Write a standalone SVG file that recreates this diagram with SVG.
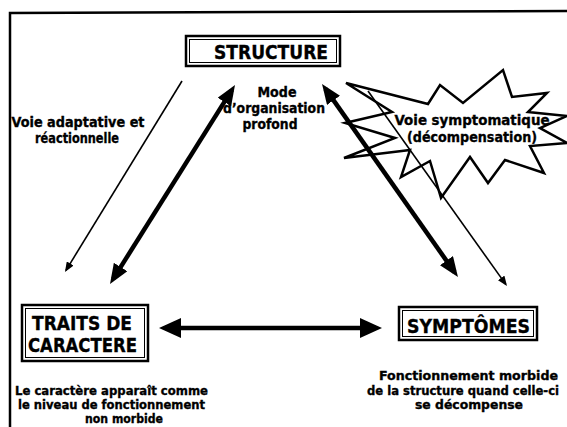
<svg xmlns="http://www.w3.org/2000/svg" width="567" height="427" viewBox="0 0 567 427">
<style>
text{font-family:"DejaVu Sans",Verdana,sans-serif;font-weight:bold;fill:#000;stroke:#000;stroke-width:0.35}
.t{font-size:13.5px}
.h{font-size:19.5px}
.s{font-size:12px}
.outer{fill:#fff;stroke:#000;stroke-width:2.5}
.inner{fill:none;stroke:#000;stroke-width:1}
.thick{stroke:#000;stroke-width:4.5;fill:none}
.thin{stroke:#000;stroke-width:1.6;fill:none}
</style>
<defs>
<marker id="big" viewBox="0 0 20 16" markerUnits="userSpaceOnUse" markerWidth="20" markerHeight="16" refX="14" refY="8" orient="auto-start-reverse"><path d="M0,0 L20,8 L0,16 z" fill="#000"/></marker>
<marker id="hz" viewBox="0 0 22 20" markerUnits="userSpaceOnUse" markerWidth="22" markerHeight="20" refX="16" refY="10" orient="auto-start-reverse"><path d="M0,0 L22,10 L0,20 z" fill="#000"/></marker>
<marker id="small" viewBox="0 0 10 8" markerUnits="userSpaceOnUse" markerWidth="10" markerHeight="8" refX="8" refY="4" orient="auto"><path d="M0,0 L10,4 L0,8 z" fill="#000"/></marker>
</defs>
<rect width="567" height="427" fill="#fff"/>
<g id="frame"><path d="M10,427 L10,13 L567,11" fill="none" stroke="#000" stroke-width="2.5"/></g>
<g id="burst">
<path d="M346,83 L428,104 L440,85 L463,103 L503,70 L512,97 L547,93 L528,112 L567,116 L540,128 L567,143 L530,146 L544,173 L505,160 L488,183 L470,157 L441,198 L430,161 L401,177 L410,150 L344,158 L395,138 L345,123 L392,112 Z" fill="#fff" stroke="#000" stroke-width="2.5" stroke-linejoin="miter"/>
</g>
<g id="connectors">
<line class="thin" x1="182" y1="81" x2="66" y2="270.3" marker-end="url(#small)"/>
<line class="thick" x1="231.8" y1="90.1" x2="113.2" y2="278.9" marker-start="url(#big)" marker-end="url(#big)"/>
<line class="thick" x1="325.5" y1="88.9" x2="454.5" y2="272.1" marker-start="url(#big)" marker-end="url(#big)"/>
<line class="thin" x1="368" y1="91" x2="505.8" y2="284.4" marker-end="url(#small)"/>
<line class="thick" x1="165" y1="328" x2="376" y2="328" stroke-width="4" marker-start="url(#hz)" marker-end="url(#hz)"/>
</g>
<g id="structure">
<rect class="outer" x="186" y="36" width="154" height="30"/>
<rect class="inner" x="189.5" y="39.5" width="147" height="23"/>
<text class="h" x="214" y="58.5" font-size="18.5" textLength="114" lengthAdjust="spacingAndGlyphs">STRUCTURE</text>
</g>
<g id="mode-label">
<text class="t" x="277" y="97" text-anchor="middle" textLength="39" lengthAdjust="spacingAndGlyphs">Mode</text>
<text class="t" x="274" y="113" text-anchor="middle" textLength="102" lengthAdjust="spacingAndGlyphs">d’organisation</text>
<text class="t" x="270" y="129" text-anchor="middle" textLength="55" lengthAdjust="spacingAndGlyphs">profond</text>
</g>
<g id="voie-adaptative">
<text class="t" x="78" y="127" text-anchor="middle" textLength="133" lengthAdjust="spacingAndGlyphs">Voie adaptative et</text>
<text class="t" x="77" y="143" text-anchor="middle" textLength="84" lengthAdjust="spacingAndGlyphs">réactionnelle</text>
</g>
<g id="voie-symptomatique">
<text class="t" x="472" y="125" text-anchor="middle" textLength="155" lengthAdjust="spacingAndGlyphs">Voie symptomatique</text>
<text class="t" x="472" y="142" text-anchor="middle" textLength="130" lengthAdjust="spacingAndGlyphs">(décompensation)</text>
</g>
<g id="traits">
<rect class="outer" x="22" y="305" width="126" height="56"/>
<rect class="inner" x="25.5" y="308.5" width="119" height="49"/>
<text class="h" x="82" y="330" text-anchor="middle" textLength="100" lengthAdjust="spacingAndGlyphs">TRAITS DE</text>
<text class="h" x="82.5" y="352" text-anchor="middle" textLength="109" lengthAdjust="spacingAndGlyphs">CARACTERE</text>
</g>
<g id="symptomes">
<rect class="outer" x="399" y="307" width="138" height="33"/>
<rect class="inner" x="402.5" y="310.5" width="131" height="26"/>
<text class="h" x="468.5" y="333" text-anchor="middle" textLength="123" lengthAdjust="spacingAndGlyphs">SYMPTÔMES</text>
</g>
<g id="caractere-note">
<text class="s" x="111.5" y="395" text-anchor="middle" textLength="193" lengthAdjust="spacingAndGlyphs">Le caractère apparaît comme</text>
<text class="s" x="111.5" y="409" text-anchor="middle" textLength="187" lengthAdjust="spacingAndGlyphs">le niveau de fonctionnement</text>
<text class="s" x="124" y="423" text-anchor="middle" textLength="78" lengthAdjust="spacingAndGlyphs">non morbide</text>
</g>
<g id="symptomes-note">
<text class="s" x="468.5" y="380" text-anchor="middle" textLength="179" lengthAdjust="spacingAndGlyphs">Fonctionnement morbide</text>
<text class="s" x="367" y="395" textLength="192" lengthAdjust="spacingAndGlyphs">de la structure quand celle-ci</text>
<text class="s" x="469" y="409" text-anchor="middle" textLength="108" lengthAdjust="spacingAndGlyphs">se décompense</text>
</g>
</svg>
